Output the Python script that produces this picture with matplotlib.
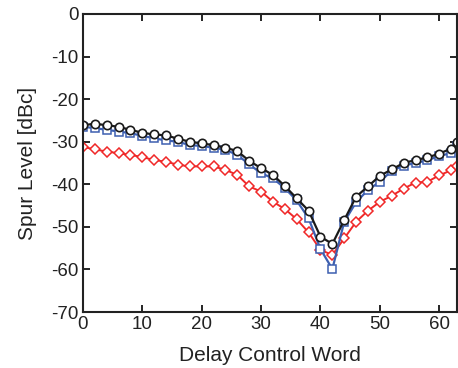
import matplotlib
matplotlib.use("Agg")
import matplotlib.pyplot as plt
import numpy as np

plt.rcParams['font.family'] = ['Liberation Sans', 'DejaVu Sans']
plt.rcParams['axes.unicode_minus'] = False

# delay control word (markers every 2 codes, last code 63)
dcw = [0, 2, 4, 6, 8, 10, 12, 14, 16, 18, 20, 22, 24, 26, 28, 30,
       32, 34, 36, 38, 40, 42, 44, 46, 48, 50, 52, 54, 56, 58, 60, 62, 63]

spur_black = [-26.1, -25.8, -26.1, -26.5, -27.2, -27.9, -28.3, -28.5, -29.3, -30.0,
              -30.4, -30.8, -31.4, -32.2, -34.5, -36.2, -37.8, -40.4, -43.3, -46.2,
              -52.3, -54.0, -48.4, -42.9, -40.5, -38.0, -36.5, -35.0, -34.3, -33.7,
              -32.8, -31.6, -30.0]
spur_blue = [-26.5, -26.8, -27.2, -27.6, -28.0, -28.6, -29.2, -29.7, -30.0, -30.8,
             -31.0, -31.4, -31.9, -33.1, -35.3, -37.4, -38.6, -40.9, -43.8, -48.0,
             -55.2, -59.9, -48.8, -44.2, -41.3, -39.4, -36.8, -35.6, -35.0, -34.4,
             -33.3, -32.7, -31.0]
spur_red = [-31.2, -31.8, -32.3, -32.7, -33.1, -33.6, -34.3, -34.7, -35.4, -35.8,
            -35.8, -35.8, -36.6, -37.8, -40.5, -41.7, -44.1, -45.8, -48.2, -51.3,
            -55.4, -56.6, -52.7, -48.8, -46.2, -44.1, -42.7, -41.0, -39.6, -39.4,
            -37.9, -36.7, -35.6]

fig = plt.figure(figsize=(4.58, 3.68), dpi=100)
ax = fig.add_axes([0.181, 0.152, 0.817, 0.810])

ax.plot(dcw, spur_red, color='#f02828', marker='D', markersize=5,
        markerfacecolor='white', markeredgewidth=1.1, linewidth=1.4)
ax.plot(dcw, spur_blue, color='#3d5fb0', marker='s', markersize=6,
        markerfacecolor='white', markeredgewidth=1.1, linewidth=1.6)
ax.plot(dcw, spur_black, color='#1a1a1a', marker='o', markersize=6,
        markerfacecolor='white', markeredgewidth=1.2, linewidth=1.6)

ax.set_xlim(0, 63)
ax.set_ylim(-70, 0)
ax.set_xticks(np.arange(0, 61, 10))
ax.set_yticks(np.arange(-70, 1, 10))
ax.tick_params(direction='in', length=5, width=1.2, labelsize=13.5,
               top=True, right=True, pad=3, labelcolor='#222222')
for s in ax.spines.values():
    s.set_linewidth(1.5)
    s.set_color('#222222')

ax.set_xlabel('Delay Control Word', fontsize=15, labelpad=9, color='#222222')
ax.set_ylabel('Spur Level [dBc]', fontsize=15, labelpad=10, color='#222222')

fig.savefig('out.png', dpi=100)
